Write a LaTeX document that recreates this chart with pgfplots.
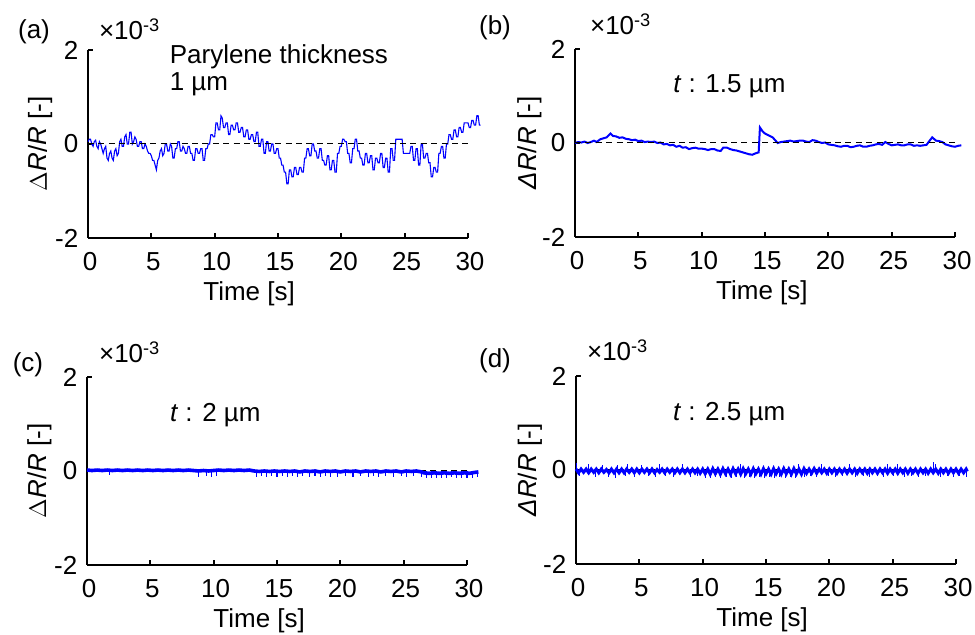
\documentclass[border=0pt]{standalone}
\usepackage{fontspec}
\setmainfont{Liberation Sans}
\usepackage{pgfplots}
\pgfplotsset{compat=1.18}
\newcommand{\fs}{\fontsize{13}{15}\selectfont}
\pgfplotsset{
  panel/.style={
    width=190pt, height=94pt, scale only axis,
    axis lines*=left,
    xmin=0, xmax=30, ymin=-2, ymax=2,
    xtick={0,5,...,30}, ytick={-2,0,2},
    tick align=inside,
    major tick length=2.5pt,
    axis line style={line width=1pt},
    every tick/.style={black, line width=1pt},
    tick label style={font=\fs},
    label style={font=\fs},
    /pgf/number format/assume math mode=true,
    xticklabel style={anchor=base, yshift=-16.5pt, xshift=1pt},
    yticklabel style={xshift=-1.3pt},
    clip=false,
    xlabel={Time [s]},
    anchor=south west,
  },
  trace/.style={color=blue, line width=0.5pt},
  zero/.style={black, line width=0.5pt, dash pattern=on 3pt off 2.2pt},
}
\begin{document}
\begin{tikzpicture}
\useasboundingbox (0,0) rectangle (487.5pt,317.5pt);
% ---------------- (a)
\begin{axis}[panel, at={(44pt,198.5pt)},
  xlabel style={at={(axis description cs:0.424,0)}, anchor=base, yshift=-31.25pt},
  ylabel={$\Delta$\textit{R}/\textit{R} [-]},
  ylabel style={at={(axis description cs:-0.126,0.5)}, anchor=center}]
\addplot[trace, line width=0.55pt] coordinates {
(0.0,0.05)(0.1,0.1)(0.2,0.1)(0.3,0.0)(0.4,-0.05)(0.5,0.05)(0.6,0.08)(0.7,-0.05)(0.8,-0.1)(0.9,0.05)(1.0,0.0)(1.1,-0.1)(1.2,-0.2)(1.3,-0.1)(1.4,-0.05)(1.5,-0.3)(1.6,-0.35)(1.7,-0.2)(1.8,-0.15)(1.9,-0.3)
(2.0,-0.35)(2.1,-0.15)(2.2,-0.1)(2.3,-0.25)(2.4,-0.2)(2.5,0.05)(2.6,0.1)(2.7,-0.05)(2.8,-0.05)(2.9,0.15)(3.0,0.2)(3.1,0.0)(3.2,0.0)(3.3,0.25)(3.4,0.25)(3.5,0.0)(3.6,0.05)(3.7,0.15)(3.8,0.1)(3.9,-0.05)
(4.0,-0.05)(4.1,0.05)(4.2,0.05)(4.3,-0.1)(4.4,-0.1)(4.5,0.0)(4.6,-0.05)(4.7,-0.15)(4.8,-0.2)(4.9,-0.2)(5.0,-0.25)(5.1,-0.35)(5.2,-0.35)(5.3,-0.45)(5.4,-0.55)(5.5,-0.35)(5.6,-0.3)(5.7,-0.15)(5.8,-0.1)(5.9,-0.25)
(6.0,-0.2)(6.1,0.0)(6.2,0.0)(6.3,-0.15)(6.4,-0.15)(6.5,0.0)(6.6,-0.05)(6.7,-0.3)(6.8,-0.3)(6.9,-0.1)(7.0,-0.1)(7.1,0.05)(7.2,0.05)(7.3,-0.15)(7.4,-0.15)(7.5,-0.05)(7.6,-0.1)(7.7,-0.2)(7.8,-0.2)(7.9,-0.05)
(8.0,-0.05)(8.1,-0.2)(8.2,-0.2)(8.3,-0.35)(8.4,-0.35)(8.5,-0.1)(8.6,-0.1)(8.7,-0.2)(8.8,-0.2)(8.9,-0.1)(9.0,-0.1)(9.1,-0.35)(9.2,-0.35)(9.3,-0.1)(9.4,-0.1)(9.5,0.0)(9.6,0.0)(9.7,0.2)(9.8,0.2)(9.9,0.15)
(10.0,0.15)(10.1,0.45)(10.2,0.45)(10.3,0.3)(10.4,0.3)(10.5,0.6)(10.6,0.55)(10.7,0.35)(10.8,0.35)(10.9,0.45)(11.0,0.45)(11.1,0.2)(11.2,0.2)(11.3,0.4)(11.4,0.4)(11.5,0.3)(11.6,0.3)(11.7,0.45)(11.8,0.45)(11.9,0.25)
(12.0,0.25)(12.1,0.35)(12.2,0.35)(12.3,0.15)(12.4,0.15)(12.5,0.3)(12.6,0.3)(12.7,0.1)(12.8,0.1)(12.9,0.2)(13.0,0.2)(13.1,0.05)(13.2,0.05)(13.3,0.25)(13.4,0.25)(13.5,-0.05)(13.6,-0.05)(13.7,0.1)(13.8,0.1)(13.9,-0.2)
(14.0,-0.2)(14.1,0.05)(14.2,0.05)(14.3,-0.15)(14.4,-0.15)(14.5,0.0)(14.6,0.0)(14.7,-0.2)(14.8,-0.2)(14.9,-0.1)(15.0,-0.1)(15.1,-0.3)(15.2,-0.3)(15.3,-0.45)(15.4,-0.45)(15.5,-0.6)(15.6,-0.6)(15.7,-0.85)(15.8,-0.85)(15.9,-0.55)
(16.0,-0.55)(16.1,-0.7)(16.2,-0.7)(16.3,-0.5)(16.4,-0.5)(16.5,-0.65)(16.6,-0.65)(16.7,-0.5)(16.8,-0.5)(16.9,-0.6)(17.0,-0.6)(17.1,-0.3)(17.2,-0.3)(17.3,-0.1)(17.4,-0.1)(17.5,-0.25)(17.6,-0.25)(17.7,0.0)(17.8,0.0)(17.9,-0.15)
(18.0,-0.15)(18.1,-0.3)(18.2,-0.3)(18.3,-0.1)(18.4,-0.1)(18.5,-0.35)(18.6,-0.35)(18.7,-0.45)(18.8,-0.45)(18.9,-0.25)(19.0,-0.25)(19.1,-0.55)(19.2,-0.55)(19.3,-0.35)(19.4,-0.35)(19.5,-0.6)(19.6,-0.6)(19.7,-0.2)(19.8,-0.2)(19.9,-0.05)
(20.0,-0.05)(20.1,0.1)(20.2,0.1)(20.3,0.05)(20.4,0.05)(20.5,-0.2)(20.6,-0.2)(20.7,-0.4)(20.8,-0.4)(20.9,-0.1)(21.0,-0.1)(21.1,0.1)(21.2,0.1)(21.3,-0.15)(21.4,-0.15)(21.5,-0.3)(21.6,-0.3)(21.7,-0.45)(21.8,-0.45)(21.9,-0.2)
(22.0,-0.2)(22.1,-0.4)(22.2,-0.4)(22.3,-0.25)(22.4,-0.25)(22.5,-0.55)(22.6,-0.55)(22.7,-0.3)(22.8,-0.3)(22.9,-0.4)(23.0,-0.4)(23.1,-0.2)(23.2,-0.2)(23.3,-0.5)(23.4,-0.5)(23.5,-0.3)(23.6,-0.3)(23.7,-0.6)(23.8,-0.6)(23.9,-0.1)
(24.0,-0.1)(24.1,-0.35)(24.2,-0.35)(24.3,0.1)(24.4,0.1)(24.6,0.1)(24.8,0.1)(24.9,-0.2)(25.0,-0.2)(25.2,-0.2)(25.4,-0.2)(25.5,-0.05)(25.6,-0.05)(25.7,-0.35)(25.8,-0.35)(25.9,-0.1)
(26.0,-0.1)(26.1,-0.45)(26.2,-0.45)(26.3,0.0)(26.4,0.0)(26.5,-0.3)(26.6,-0.3)(26.7,-0.2)(26.8,-0.2)(26.9,-0.4)(27.0,-0.4)(27.1,-0.7)(27.2,-0.7)(27.3,-0.5)(27.4,-0.5)(27.5,-0.6)(27.6,-0.6)(27.7,-0.2)(27.8,-0.2)(27.9,-0.05)
(28.0,-0.05)(28.1,-0.3)(28.2,-0.3)(28.3,0.0)(28.4,0.0)(28.5,0.2)(28.6,0.2)(28.7,0.1)(28.8,0.1)(28.9,0.3)(29.0,0.3)(29.1,0.15)(29.2,0.15)(29.3,0.35)(29.4,0.35)(29.5,0.25)(29.6,0.25)(29.7,0.45)(29.8,0.45)(29.9,0.45)
(30.0,0.45)(30.1,0.35)(30.2,0.35)(30.3,0.5)(30.4,0.5)(30.5,0.4)(30.6,0.4)(30.7,0.6)(30.8,0.6)(30.9,0.4)(31.0,0.4)
};
\addplot[zero] coordinates {(0,0)(30,0)};
\node[anchor=base west, font=\fs] at (rel axis cs:0,1) [xshift=2pt, yshift=5pt] {×10\textsuperscript{-3}};
\node[anchor=base west, font=\fs] at (axis cs:5.9,1.72) {Parylene thickness};
\node[anchor=base west, font=\fs] at (axis cs:5.9,1.13) {1 µm};
\end{axis}
% ---------------- (b)
\begin{axis}[panel, at={(287.5pt,199pt)},
  xlabel style={at={(axis description cs:0.492,0)}, anchor=base, yshift=-31.25pt},
  ylabel={\textit{ΔR}/\textit{R} [-]},
  ylabel style={at={(axis description cs:-0.12,0.5)}, anchor=center}]
\addplot[trace, line width=1pt] coordinates {
(0.0,0.0)(0.25,0.02)(0.5,0.01)(0.75,0.03)(1.0,0.0)(1.25,0.02)(1.5,0.05)(1.7,0.02)(2.0,0.08)(2.25,0.1)
(2.5,0.12)(2.8,0.2)(3.0,0.15)(3.25,0.14)(3.5,0.11)(3.75,0.12)(4.0,0.09)(4.25,0.08)(4.5,0.06)(4.75,0.07)
(5.0,0.04)(5.25,0.05)(5.5,0.02)(5.75,0.03)(6.0,0.02)(6.25,0.03)(6.5,0.0)(6.75,0.01)(7.0,-0.03)(7.25,-0.02)
(7.5,-0.05)(7.75,-0.04)(8.0,-0.08)(8.25,-0.06)(8.5,-0.1)(8.75,-0.09)(9.0,-0.13)(9.25,-0.11)(9.5,-0.1)(9.75,-0.12)
(10.0,-0.12)(10.25,-0.13)(10.5,-0.15)(10.75,-0.13)(11.0,-0.13)(11.25,-0.16)(11.5,-0.17)(11.7,-0.1)(12.0,-0.1)(12.25,-0.13)
(12.5,-0.15)(12.75,-0.16)(13.0,-0.18)(13.25,-0.2)(13.5,-0.22)(13.75,-0.24)(14.0,-0.25)(14.25,-0.22)(14.5,-0.2)(14.6,0.33)
(14.8,0.25)(15.0,0.2)(15.3,0.16)(15.6,0.12)(15.8,0.06)(16.0,0.0)(16.25,0.02)(16.5,0.03)(16.75,0.04)(17.0,0.05)
(17.25,0.03)(17.5,0.04)(17.75,0.05)(18.0,0.05)(18.25,0.03)(18.5,0.02)(18.75,0.06)(19.0,0.05)(19.25,0.02)(19.5,0.0)
(19.75,0.01)(20.0,-0.03)(20.25,-0.04)(20.5,-0.05)(20.75,-0.07)(21.0,-0.08)(21.25,-0.06)(21.5,-0.06)(21.75,-0.09)(22.0,-0.08)
(22.25,-0.06)(22.5,-0.05)(22.75,-0.08)(23.0,-0.08)(23.25,-0.06)(23.5,-0.05)(23.75,-0.03)(24.0,-0.02)(24.25,-0.04)(24.5,0.02)
(24.75,-0.02)(25.0,-0.05)(25.25,-0.04)(25.5,-0.03)(25.75,-0.05)(26.0,-0.05)(26.25,-0.03)(26.5,-0.03)(26.75,-0.06)(27.0,-0.05)
(27.25,-0.06)(27.5,-0.05)(27.75,-0.04)(28.0,0.05)(28.2,0.12)(28.5,0.05)(28.75,0.04)(29.0,0.02)(29.25,-0.03)(29.5,-0.05)
(29.75,-0.07)(30.0,-0.08)(30.25,-0.06)(30.5,-0.05)
};
\addplot[zero] coordinates {(0,0)(30,0)};
\node[anchor=base west, font=\fs] at (rel axis cs:0,1) [xshift=4pt, yshift=7pt] {×10\textsuperscript{-3}};
\node[anchor=base west, font=\fs] at (axis cs:7.2,1.07) {\textit{t} : 1.5 µm};
\end{axis}
% ---------------- (c)
\begin{axis}[panel, at={(43.5pt,35pt)},
  xlabel style={at={(axis description cs:0.453,0)}, anchor=base, yshift=-31.25pt},
  ylabel={$\Delta$\textit{R}/\textit{R} [-]},
  ylabel style={at={(axis description cs:-0.125,0.5)}, anchor=center}]
\addplot[zero] coordinates {(0,0)(30,0)};
\addplot[trace, line width=1.8pt] coordinates {
(0.0,0.02)(0.4,0.01)(0.8,0.02)(1.2,0.01)(1.6,0.02)(2.0,0.01)(2.4,0.02)(2.8,0.01)(3.2,0.02)(3.6,0.01)
(4.0,0.02)(4.4,0.01)(4.8,0.02)(5.2,0.01)(5.6,0.02)(6.0,0.01)(6.4,0.02)(6.8,0.01)(7.2,0.02)(7.6,0.01)
(8.0,0.02)(8.4,0.01)(8.8,0.0)(9.2,0.01)(9.6,0.0)(10.0,0.01)(10.4,0.02)(10.8,0.01)(11.2,0.02)(11.6,0.01)
(12.0,0.02)(12.4,0.01)(12.8,0.02)(13.2,0.0)(13.6,-0.01)(14.0,0.0)(14.4,-0.01)(14.8,0.0)(15.2,-0.01)(15.6,0.0)
(16.0,-0.01)(16.4,0.0)(16.8,-0.02)(17.2,0.0)(17.6,-0.01)(18.0,0.0)(18.4,-0.02)(18.8,0.0)(19.2,-0.01)(19.6,0.0)
(20.0,-0.02)(20.4,0.0)(20.8,-0.01)(21.2,0.0)(21.6,-0.02)(22.0,0.0)(22.4,-0.01)(22.8,0.0)(23.2,-0.02)(23.6,0.0)
(24.0,-0.01)(24.4,0.0)(24.8,-0.02)(25.2,0.0)(25.6,-0.01)(26.0,0.0)(26.4,-0.02)(26.6,-0.04)(27.0,-0.05)(27.4,-0.04)
(27.8,-0.05)(28.2,-0.04)(28.6,-0.05)(29.0,-0.04)(29.4,-0.05)(29.8,-0.04)(30.2,-0.05)(30.6,-0.03)(30.9,-0.02)
};
\addplot[trace, ycomb, line width=0.55pt] coordinates {
(1.8,-0.09)(8.8,-0.12)(9.4,-0.11)(9.8,-0.12)(10.2,-0.11)(13.4,-0.12)(13.8,-0.1)(14.2,-0.12)(14.6,-0.11)(15.0,-0.12)
(15.4,-0.1)(15.8,-0.12)(16.2,-0.11)(16.6,-0.13)(17.0,-0.11)(17.6,-0.12)(18.0,-0.1)(18.4,-0.12)(18.8,-0.11)(19.2,-0.12)
(19.8,-0.12)(20.4,-0.11)(21.0,-0.12)(21.6,-0.11)(22.2,-0.12)(22.6,-0.1)(23.0,-0.12)(23.6,-0.11)(24.2,-0.12)(24.8,-0.11)
(25.2,-0.12)(25.8,-0.11)(26.4,-0.12)(26.8,-0.15)(27.2,-0.14)(27.6,-0.15)(28.0,-0.14)(28.4,-0.15)(28.8,-0.13)(29.2,-0.15)
(29.6,-0.14)(30.0,-0.15)(30.4,-0.14)(30.8,-0.12)
};
\node[anchor=base west, font=\fs] at (rel axis cs:0,1) [xshift=2.5pt, yshift=7pt] {×10\textsuperscript{-3}};
\node[anchor=base west, font=\fs] at (axis cs:6.0,1.06) {\textit{t} : 2 µm};
\end{axis}
% ---------------- (d)
\begin{axis}[panel, at={(288pt,35.5pt)},
  xlabel style={at={(axis description cs:0.49,0)}, anchor=base, yshift=-31.25pt},
  ylabel={\textit{ΔR}/\textit{R} [-]},
  ylabel style={at={(axis description cs:-0.121,0.5)}, anchor=center}]
\addplot[zero] coordinates {(0,0)(30,0)};
\addplot[trace, line width=1.5pt] coordinates {
(0.0,0.02)(0.2,-0.06)(0.4,0.02)(0.6,-0.05)(0.8,0.02)(1.0,-0.06)(1.2,0.02)(1.4,-0.05)(1.6,0.02)(1.8,-0.06)
(2.0,0.02)(2.2,-0.05)(2.4,0.01)(2.6,-0.06)(2.8,0.02)(3.0,-0.06)(3.2,0.02)(3.4,-0.06)(3.6,0.02)(3.8,-0.06)
(4.0,0.02)(4.2,-0.05)(4.4,0.02)(4.6,-0.06)(4.8,0.02)(5.0,-0.06)(5.2,0.02)(5.4,-0.05)(5.6,0.02)(5.8,-0.06)
(6.0,0.02)(6.2,-0.06)(6.4,0.01)(6.6,-0.05)(6.8,0.02)(7.0,-0.06)(7.2,0.02)(7.4,-0.05)(7.6,0.02)(7.8,-0.06)
(8.0,0.02)(8.2,-0.06)(8.4,0.02)(8.6,-0.06)(8.8,0.02)(9.0,-0.06)(9.2,0.02)(9.4,-0.06)(9.6,0.02)(9.8,-0.07)
(10.0,0.02)(10.2,-0.08)(10.4,0.02)(10.6,-0.09)(10.8,0.03)(11.0,-0.08)(11.2,0.02)(11.4,-0.09)(11.6,0.03)(11.8,-0.08)
(12.0,0.02)(12.2,-0.09)(12.4,0.03)(12.6,-0.08)(12.8,0.02)(13.0,-0.09)(13.2,0.03)(13.4,-0.08)(13.6,0.02)(13.8,-0.09)
(14.0,0.03)(14.2,-0.08)(14.4,0.02)(14.6,-0.09)(14.8,0.03)(15.0,-0.08)(15.2,0.02)(15.4,-0.09)(15.6,0.03)(15.8,-0.08)
(16.0,0.02)(16.2,-0.09)(16.4,0.03)(16.6,-0.08)(16.8,0.02)(17.0,-0.09)(17.2,0.03)(17.4,-0.08)(17.6,0.02)(17.8,-0.09)
(18.0,0.03)(18.2,-0.07)(18.4,0.02)(18.6,-0.07)(18.8,0.03)(19.0,-0.07)(19.2,0.02)(19.4,-0.06)(19.6,0.02)(19.8,-0.07)
(20.0,0.02)(20.2,-0.06)(20.4,0.02)(20.6,-0.07)(20.8,0.02)(21.0,-0.06)(21.2,0.02)(21.4,-0.07)(21.6,0.02)(21.8,-0.06)
(22.0,0.02)(22.2,-0.07)(22.4,0.02)(22.6,-0.06)(22.8,0.02)(23.0,-0.07)(23.2,0.02)(23.4,-0.06)(23.6,0.02)(23.8,-0.07)
(24.0,0.02)(24.2,-0.06)(24.4,0.02)(24.6,-0.07)(24.8,0.02)(25.0,-0.06)(25.2,0.02)(25.4,-0.07)(25.6,0.02)(25.8,-0.06)
(26.0,0.02)(26.2,-0.07)(26.4,0.02)(26.6,-0.06)(26.8,0.02)(27.0,-0.07)(27.2,0.02)(27.4,-0.06)(27.6,0.02)(27.8,-0.07)
(28.0,0.02)(28.2,-0.06)(28.4,0.02)(28.6,-0.07)(28.8,0.02)(29.0,-0.06)(29.2,0.02)(29.4,-0.07)(29.6,0.02)(29.8,-0.06)
(30.0,0.02)(30.2,-0.07)(30.4,0.02)(30.6,-0.06)(30.8,0.02)(30.9,-0.03)
};
\addplot[trace, ycomb, line width=0.5pt] coordinates {
(0.05,0.15)(0.3,-0.12)(1.0,0.12)(1.5,-0.15)(2.1,0.1)(2.6,-0.14)(3.1,-0.16)(3.3,0.1)(3.9,-0.13)(4.1,0.12)
(4.6,-0.15)(5.2,0.1)(5.7,-0.13)(6.3,-0.15)(6.6,0.12)(7.1,-0.12)(7.7,-0.14)(8.4,0.12)(9.0,-0.15)(9.6,-0.13)
(10.2,-0.16)(10.6,-0.17)(11.0,-0.15)(11.4,-0.16)(11.9,-0.15)(12.3,-0.17)(12.7,-0.15)(13.0,0.12)(13.3,-0.16)(13.7,-0.15)
(14.1,-0.17)(14.5,-0.15)(14.9,-0.16)(15.3,-0.15)(15.7,-0.17)(16.1,-0.15)(16.5,-0.16)(16.9,-0.15)(17.3,-0.17)(17.6,0.12)
(18.0,-0.14)(18.5,-0.13)(19.0,-0.14)(19.4,0.12)(19.9,-0.13)(20.5,-0.14)(21.0,-0.13)(21.6,0.12)(22.1,-0.14)(22.7,-0.13)
(23.2,-0.14)(23.8,-0.13)(24.3,-0.14)(24.6,0.12)(25.1,-0.13)(25.4,0.12)(25.9,-0.14)(26.5,-0.13)(27.0,-0.14)(27.6,-0.13)
(28.2,0.16)(28.4,0.12)(28.8,-0.14)(29.3,-0.13)(29.8,-0.14)(30.3,-0.13)(30.8,-0.14)
};
\node[anchor=base west, font=\fs] at (rel axis cs:0,1) [xshift=2pt, yshift=7.5pt] {×10\textsuperscript{-3}};
\node[anchor=base west, font=\fs] at (axis cs:7.1,1.05) {\textit{t} : 2.5 µm};
\end{axis}
% panel letters
\node[font=\fs] at (17pt,301.5pt) {(a)};
\node[font=\fs] at (247.5pt,303.5pt) {(b)};
\node[font=\fs] at (14pt,135pt) {(c)};
\node[font=\fs] at (247.5pt,137pt) {(d)};
\end{tikzpicture}
\end{document}
